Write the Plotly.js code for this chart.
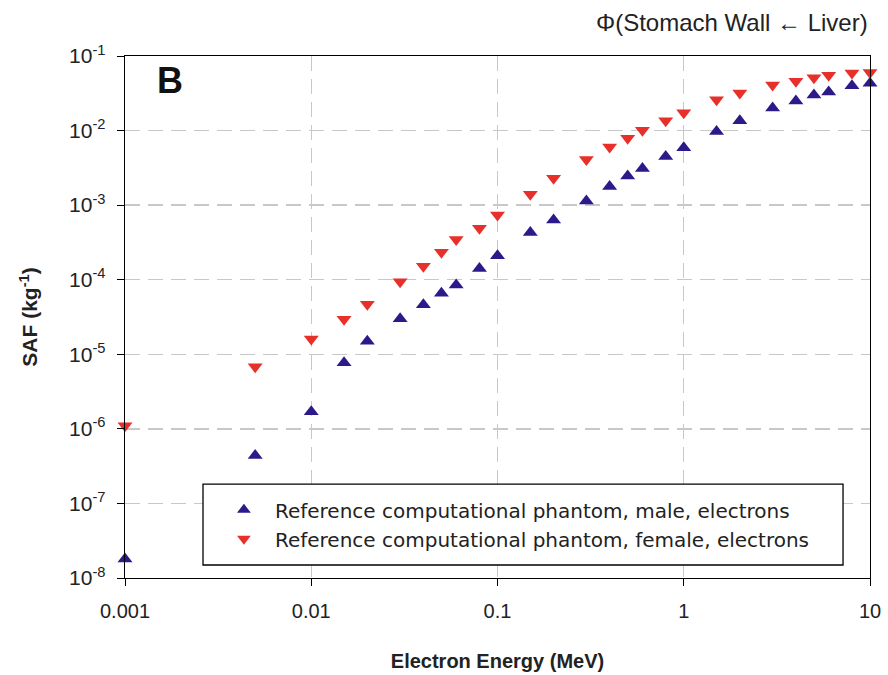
<!DOCTYPE html>
<html><head><meta charset="utf-8">
<script src="https://cdn.plot.ly/plotly-3.0.1.min.js"></script>
<style>body{margin:0;background:#fff}#c{width:888px;height:675px}</style>
</head><body><div id="c"></div>
<script>
const energy = [0.001,0.005,0.01,0.015,0.02,0.03,0.04,0.05,0.06,0.08,0.1,0.15,0.2,0.3,0.4,0.5,0.6,0.8,1,1.5,2,3,4,5,6,8,10];
const male = [1.8e-8,4.4e-7,1.7e-6,7.7e-6,1.5e-5,3.0e-5,4.6e-5,6.6e-5,8.5e-5,1.41e-4,2.1e-4,4.3e-4,6.3e-4,1.14e-3,1.78e-3,2.46e-3,3.1e-3,4.5e-3,5.9e-3,9.7e-3,1.35e-2,2.0e-2,2.5e-2,3.0e-2,3.3e-2,4.0e-2,4.3e-2];
const female = [1.1e-6,6.8e-6,1.6e-5,2.95e-5,4.7e-5,9.4e-5,1.52e-4,2.34e-4,3.45e-4,4.9e-4,7.4e-4,1.4e-3,2.3e-3,4.1e-3,6.0e-3,7.9e-3,1.01e-2,1.35e-2,1.74e-2,2.6e-2,3.2e-2,4.1e-2,4.6e-2,5.1e-2,5.5e-2,5.9e-2,6.0e-2];
const xTickVals = [0.001,0.01,0.1,1,10];
const xTickText = ['0.001','0.01','0.1','1','10'];
const yTickVals = [1e-8,1e-7,1e-6,1e-5,1e-4,1e-3,1e-2,1e-1];
const yTickText = ['10<sup>-8</sup>','10<sup>-7</sup>','10<sup>-6</sup>','10<sup>-5</sup>','10<sup>-4</sup>','10<sup>-3</sup>','10<sup>-2</sup>','10<sup>-1</sup>'];
const names = ['Reference computational phantom, male, electrons','Reference computational phantom, female, electrons'];

const sans = 'Liberation Sans, Arial, sans-serif';
const verd = 'DejaVu Sans';
const traces = [
  {x: energy, y: male, type:'scatter', mode:'markers', name: names[0], cliponaxis:false,
   marker:{symbol:'triangle-up', size:13, color:'#2c1a8a'}},
  {x: energy, y: female, type:'scatter', mode:'markers', name: names[1], cliponaxis:false,
   marker:{symbol:'triangle-down', size:13, color:'#e8302a'}}
];
const gridStyle = {showgrid:true, gridcolor:'#c8c8c8', griddash:'15px,8px', gridwidth:1.3};
const layout = {
  width:888, height:675,
  margin:{l:125, r:18, t:56, b:97},
  paper_bgcolor:'#fff', plot_bgcolor:'#fff',
  font:{family:sans},
  showlegend:true,
  legend:{x:0.118, y:0.168, xanchor:'left', yanchor:'top', borderwidth:0,
    bgcolor:'rgba(0,0,0,0)', font:{family:verd, size:20, color:'#222'},
    tracegroupgap:0, itemsizing:'constant', itemwidth:52},
  shapes:[
    {type:'rect', xref:'paper', yref:'paper', x0:0.1047, x1:0.9638, y0:0.0249, y1:0.180,
     line:{color:'#000', width:1.3}, fillcolor:'#fff', layer:'above'}
  ],
  xaxis:Object.assign({type:'log', range:[-3,1], tickvals:xTickVals, ticktext:xTickText,
    ticks:'outside', ticklen:7, tickcolor:'#000', showline:true, linecolor:'#000', linewidth:1.3, mirror:true,
    zeroline:false, ticklabelstandoff:8, tickfont:{family:sans, size:20, color:'#222'},
    title:{text:'<b>Electron Energy (MeV)</b>', font:{family:sans, size:20, color:'#222'}, standoff:32}
  }, gridStyle),
  yaxis:Object.assign({type:'log', range:[-8,-1], tickvals:yTickVals, ticktext:yTickText,
    ticks:'outside', ticklen:7, tickcolor:'#000', showline:true, linecolor:'#000', linewidth:1.3, mirror:true,
    zeroline:false, ticklabelstandoff:7, tickfont:{family:sans, size:21, color:'#222'},
    title:{text:'<b>SAF (kg<sup>-1</sup>)</b>', font:{family:sans, size:21, color:'#222'}, standoff:25}
  }, gridStyle),
  annotations:[
    {text:'<b>B</b>', xref:'paper', yref:'paper', x:0.04, y:0.997, xanchor:'left', yanchor:'top', showarrow:false,
     font:{family:sans, size:36, color:'#111'}},
    {text:'Φ(Stomach Wall ← Liver)', xref:'paper', yref:'paper', x:1.0, y:1.035, xanchor:'right', yanchor:'bottom', showarrow:false,
     font:{family:sans, size:24, color:'#222'}}
  ]
};
Plotly.newPlot('c', traces, layout, {displayModeBar:false, staticPlot:true});
</script></body></html>
